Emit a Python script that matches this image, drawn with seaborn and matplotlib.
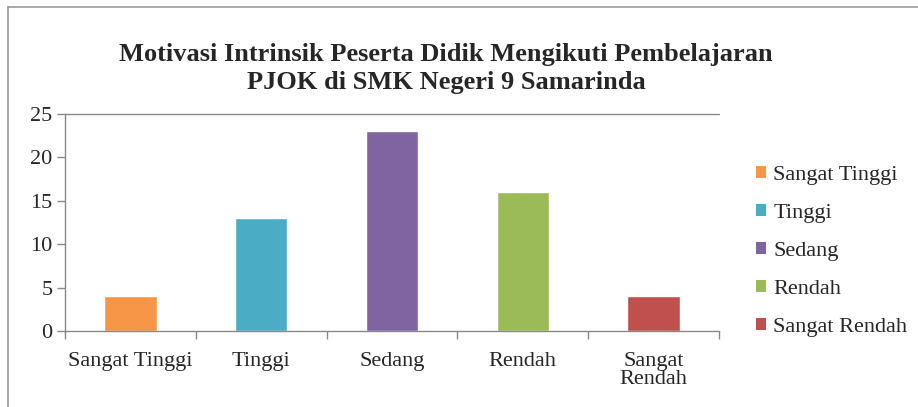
import matplotlib
matplotlib.use("Agg")
import matplotlib.pyplot as plt
import seaborn as sns
import pandas as pd
from matplotlib.lines import Line2D
from matplotlib.patches import Patch

# data
kategori = ["Sangat Tinggi", "Tinggi", "Sedang", "Rendah", "Sangat Rendah"]
label_sumbu = ["Sangat Tinggi", "Tinggi", "Sedang", "Rendah", "Sangat\nRendah"]
jumlah = [4, 13, 23, 16, 4]
warna = ["#F79646", "#4BACC6", "#8064A2", "#9BBB59", "#C0504D"]

sns.set_style("white")
plt.rcParams["font.family"] = ["Liberation Serif", "DejaVu Serif"]

df = pd.DataFrame({"kategori": kategori, "jumlah": jumlah})

fig = plt.figure(figsize=(9.18, 4.07), dpi=100)
ax = fig.add_axes([0.0708, 0.1867, 0.7124, 0.5332])

sns.barplot(data=df, x="kategori", y="jumlah", hue="kategori", palette=warna,
            width=0.4, legend=False, ax=ax, saturation=1)

ax.set_ylim(0, 25)
ax.set_xlim(-0.5, 4.5)
ax.set_yticks(range(0, 26, 5))
ax.set_xticks(range(5))
ax.set_xticklabels(label_sumbu, fontsize=16, linespacing=0.95)
ax.set_xlabel("")
ax.set_ylabel("")
ax.tick_params(axis="y", labelsize=16, length=6, width=1, color="#888888", left=True, pad=3)
ax.tick_params(axis="x", which="major", length=0, pad=15)
ax.set_xticks([i - 0.5 for i in range(6)], minor=True)
ax.tick_params(axis="x", which="minor", length=6, width=1, color="#888888", bottom=True)

for s in ["top", "right"]:
    ax.spines[s].set_visible(False)
for s in ["left", "bottom"]:
    ax.spines[s].set_color("#888888")
    ax.spines[s].set_linewidth(1)
ax.axhline(25, color="#888888", lw=1, clip_on=False)

fig.text(0.486, 0.832, "Motivasi Intrinsik Peserta Didik Mengikuti Pembelajaran\nPJOK di SMK Negeri 9 Samarinda",
         ha="center", va="center", fontsize=19, fontweight="bold", linespacing=1.25)

handles = [Patch(facecolor=c, edgecolor="none") for c in warna]
fig.legend(handles, kategori, loc="upper left", bbox_to_anchor=(0.811, 0.619),
           frameon=False, fontsize=16, handlelength=0.45, handleheight=0.45,
           handletextpad=0.35, labelspacing=0.85, borderpad=0)

# outer chart border (only top and left visible)
fig.add_artist(Line2D([8 / 918, 1.0], [1 - 7 / 407, 1 - 7 / 407], color="#999999", lw=1.2, transform=fig.transFigure))
fig.add_artist(Line2D([8 / 918, 8 / 918], [0.0, 1 - 7 / 407], color="#999999", lw=1.2, transform=fig.transFigure))

fig.savefig("out.png", dpi=100)
